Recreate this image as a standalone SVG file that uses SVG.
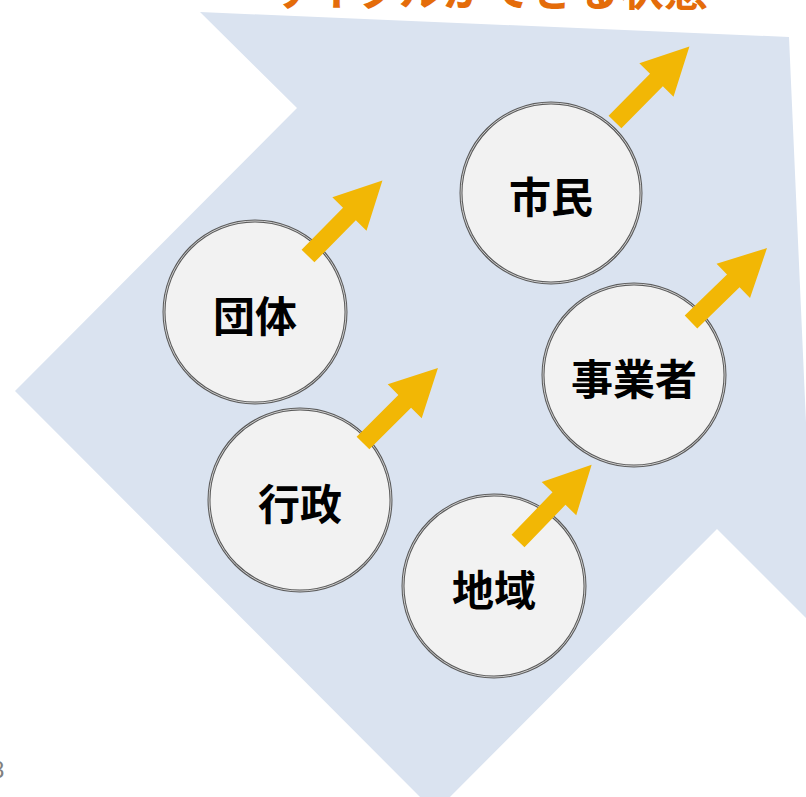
<svg xmlns="http://www.w3.org/2000/svg" width="806" height="797" viewBox="0 0 806 797">
  <defs>
    <style>
      .bg { fill: #DAE3F0; }
      .circ { fill: #F2F2F2; stroke: #5A5A5A; stroke-width: 3; }
      .circ-in { fill: none; stroke: #D0D0D0; stroke-width: 1; }
      .lbl { font-family: "Noto Sans CJK JP", "Noto Sans", sans-serif; font-weight: 700; font-size: 42px; fill: #000; text-anchor: middle; dominant-baseline: central; }
      .arr { fill: #F2B705; }
      .title { font-family: "Noto Sans CJK JP", "Noto Sans", sans-serif; font-weight: 700; font-size: 44px; fill: #E46C0A; }
    </style>
    <polygon id="yarrow" points="0,-9 59,-9 59,-24 106,0 59,24 59,9 0,9"/>
  </defs>
  <rect width="806" height="797" fill="#FFFFFF"/>
  <polygon class="bg" points="200,12 789,37 815,627 717,529 435,812 15,391 297,108"/>
  <text class="title" x="268" y="6" textLength="440" lengthAdjust="spacingAndGlyphs">サイクルができる状態</text>
  <text x="-9" y="778" font-family="Liberation Sans, sans-serif" font-size="24" fill="#808080">8</text>

  <g id="node-dantai">
    <circle class="circ" cx="255" cy="312" r="91"/>
    <circle class="circ-in" cx="255" cy="312" r="91"/>
    <text class="lbl" x="255" y="313">団体</text>
  </g>
  <g id="node-shimin">
    <circle class="circ" cx="551" cy="193" r="90"/>
    <circle class="circ-in" cx="551" cy="193" r="90"/>
    <text class="lbl" x="551" y="194">市民</text>
  </g>
  <g id="node-jigyosha">
    <circle class="circ" cx="634" cy="375" r="91"/>
    <circle class="circ-in" cx="634" cy="375" r="91"/>
    <text class="lbl" x="634" y="376">事業者</text>
  </g>
  <g id="node-gyosei">
    <circle class="circ" cx="300" cy="500" r="91"/>
    <circle class="circ-in" cx="300" cy="500" r="91"/>
    <text class="lbl" x="300" y="501">行政</text>
  </g>
  <g id="node-chiiki">
    <circle class="circ" cx="494" cy="586" r="91"/>
    <circle class="circ-in" cx="494" cy="586" r="91"/>
    <text class="lbl" x="494" y="587">地域</text>
  </g>

  <g id="connectors" class="arr">
    <use href="#yarrow" transform="translate(308,256) rotate(-45.4)"/>
    <use href="#yarrow" transform="translate(615,122) rotate(-45.4)"/>
    <use href="#yarrow" transform="translate(691,322) rotate(-44.2)"/>
    <use href="#yarrow" transform="translate(363,443) rotate(-45)"/>
    <use href="#yarrow" transform="translate(518,541) rotate(-46)"/>
  </g>
</svg>
